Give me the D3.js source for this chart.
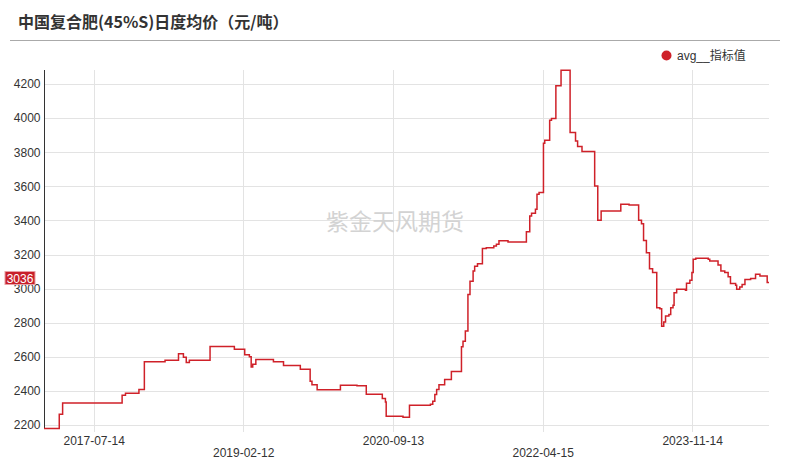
<!DOCTYPE html>
<html><head><meta charset="utf-8">
<script src="https://cdn.jsdelivr.net/npm/d3@7"></script>
<style>
html,body{margin:0;padding:0;background:#fff;}
svg{display:block;font-family:"Liberation Sans",Arial,sans-serif;}
</style></head>
<body><svg id="c" width="789" height="460"></svg>
<script>
const title = "中国复合肥(45%S)日度均价（元/吨）";
const seriesName = "avg__指标值";
const watermark = "紫金天风期货";
const dates = ["2017-01-03","2017-03-03","2017-03-16","2017-11-01","2017-11-14","2018-01-05","2018-01-26","2018-04-16","2018-06-07","2018-06-26","2018-07-07","2018-07-19","2018-10-07","2019-01-09","2019-02-18","2019-03-08","2019-03-15","2019-03-21","2019-04-02","2019-06-09","2019-07-18","2019-09-21","2019-10-29","2019-11-05","2019-11-25","2020-02-23","2020-04-27","2020-06-02","2020-08-03","2020-08-15","2020-08-18","2020-10-22","2020-11-16","2021-02-05","2021-02-14","2021-02-22","2021-03-01","2021-03-10","2021-04-01","2021-04-27","2021-06-05","2021-06-11","2021-06-20","2021-06-30","2021-07-08","2021-07-20","2021-07-26","2021-08-06","2021-08-25","2021-09-09","2021-10-08","2021-10-18","2021-10-28","2021-12-02","2022-02-11","2022-02-24","2022-03-03","2022-03-18","2022-03-24","2022-04-01","2022-04-18","2022-04-23","2022-05-12","2022-05-19","2022-06-05","2022-06-25","2022-07-30","2022-08-20","2022-08-28","2022-09-14","2022-11-02","2022-11-14","2022-11-27","2023-02-11","2023-03-15","2023-04-21","2023-05-02","2023-05-10","2023-05-21","2023-06-02","2023-06-14","2023-06-30","2023-07-12","2023-07-19","2023-07-27","2023-08-03","2023-08-16","2023-08-23","2023-09-01","2023-09-05","2023-09-15","2023-10-19","2023-10-23","2023-11-05","2023-11-13","2023-11-18","2023-11-28","2024-01-15","2024-01-21","2024-02-22","2024-03-04","2024-03-19","2024-04-01","2024-04-10","2024-04-30","2024-05-04","2024-05-16","2024-05-25","2024-06-05","2024-06-27","2024-07-16","2024-08-02","2024-08-30","2024-09-06"];
const values = [2180,2263,2330,2375,2387,2408,2571,2580,2618,2598,2567,2580,2661,2645,2612,2600,2540,2557,2585,2571,2550,2528,2457,2436,2407,2434,2430,2381,2356,2336,2252,2246,2316,2322,2340,2379,2408,2436,2467,2514,2659,2692,2751,2966,3044,3103,3132,3146,3235,3240,3250,3260,3281,3273,3334,3426,3442,3465,3553,3563,3853,3870,3988,3998,4189,4280,3916,3866,3833,3804,3602,3401,3455,3495,3491,3401,3381,3283,3211,3117,3094,2888,2882,2780,2804,2839,2849,2888,2902,2976,2996,2990,3031,3049,3094,3172,3178,3172,3162,3138,3103,3094,3069,3030,3020,2996,3009,3025,3054,3060,3084,3074,3036,3036];
const xTickLabels = ["2017-07-14","2019-02-12","2020-09-13","2022-04-15","2023-11-14"];
const yTicks = [2200,2400,2600,2800,3000,3200,3400,3600,3800,4000,4200];
const lastLabel = "3036";

const parse = d3.timeParse("%Y-%m-%d");
const data = dates.map((d,i)=>({date:parse(d), value:values[i]}));

const svg = d3.select("#c");
const L=44, R=769, T=70, B=429;
const x = d3.scaleTime().domain(d3.extent(data,d=>d.date)).range([L,R]);
const y = d3.scaleLinear().domain([2177,4282]).range([B,T]);

// title
svg.append("text").attr("x",18).attr("y",28)
  .attr("font-family","'Noto Sans CJK SC',sans-serif").attr("font-weight","bold")
  .attr("font-size",16).attr("fill","#333").text(title);
svg.append("line").attr("x1",10).attr("x2",780).attr("y1",40.5).attr("y2",40.5)
  .attr("stroke","#aaa").attr("stroke-width",1);

// legend
svg.append("circle").attr("cx",666.5).attr("cy",55.5).attr("r",5).attr("fill","#cf2129");
svg.append("text").attr("x",677).attr("y",59.5).attr("font-size",12).attr("fill","#333")
  .attr("font-family","'Liberation Sans','Noto Sans CJK SC',sans-serif").text(seriesName);

// gridlines
const g = svg.append("g");
g.selectAll(".hg").data(yTicks).join("line")
  .attr("x1",L).attr("x2",R).attr("y1",d=>Math.round(y(d))+0.5).attr("y2",d=>Math.round(y(d))+0.5)
  .attr("stroke","#e3e3e3").attr("stroke-width",1);
const xt = xTickLabels.map(parse);
g.selectAll(".vg").data(xt).join("line")
  .attr("x1",d=>Math.round(x(d))+0.5).attr("x2",d=>Math.round(x(d))+0.5).attr("y1",T).attr("y2",B+3)
  .attr("stroke","#e3e3e3").attr("stroke-width",1);

// y axis
const yAxis = d3.axisLeft(y).tickValues(yTicks).tickSize(0).tickPadding(4).tickFormat(d3.format("d"));
const ya = svg.append("g").attr("transform",`translate(${L+0.5},0)`).call(yAxis);
ya.select(".domain").attr("stroke","#333").attr("d",`M0,${T}V${B}`);
ya.selectAll("text").attr("font-size",12).attr("fill","#333").attr("font-family","'Liberation Sans',Arial,sans-serif");

// x axis labels (staggered)
const xAxis = d3.axisBottom(x).tickValues(xt).tickSize(0).tickFormat(d3.timeFormat("%Y-%m-%d"));
const xa = svg.append("g").attr("transform",`translate(0,${B})`).call(xAxis);
xa.select(".domain").remove();
xa.selectAll("text").attr("font-size",12).attr("fill","#333")
  .attr("font-family","'Liberation Sans',Arial,sans-serif")
  .attr("dy",null).attr("y",(d,i)=> i%2===0 ? 16 : 28);

// watermark
svg.append("text").attr("x",395).attr("y",230).attr("text-anchor","middle")
  .attr("font-family","'Noto Sans CJK SC',sans-serif").attr("font-size",23)
  .attr("fill","#d3d3d3").text(watermark);

// line
svg.append("clipPath").attr("id","clip").append("rect").attr("x",L).attr("y",T-1).attr("width",R-L).attr("height",B-T+2);
const line = d3.line().x(d=>x(d.date)).y(d=>y(d.value)).curve(d3.curveStepAfter);
svg.append("path").datum(data).attr("clip-path","url(#clip)")
  .attr("fill","none").attr("stroke","#cf2129").attr("stroke-width",1.5).attr("d",line);

// last value label
svg.append("rect").attr("x",5).attr("y",271.5).attr("width",30).attr("height",13)
  .attr("fill","#c8202a").attr("stroke","#e8a0a4").attr("stroke-width",1);
svg.append("text").attr("x",20).attr("y",282.5).attr("text-anchor","middle")
  .attr("font-size",12).attr("fill","#fff").attr("font-family","'Liberation Sans',Arial,sans-serif").text(lastLabel);
</script></body></html>
